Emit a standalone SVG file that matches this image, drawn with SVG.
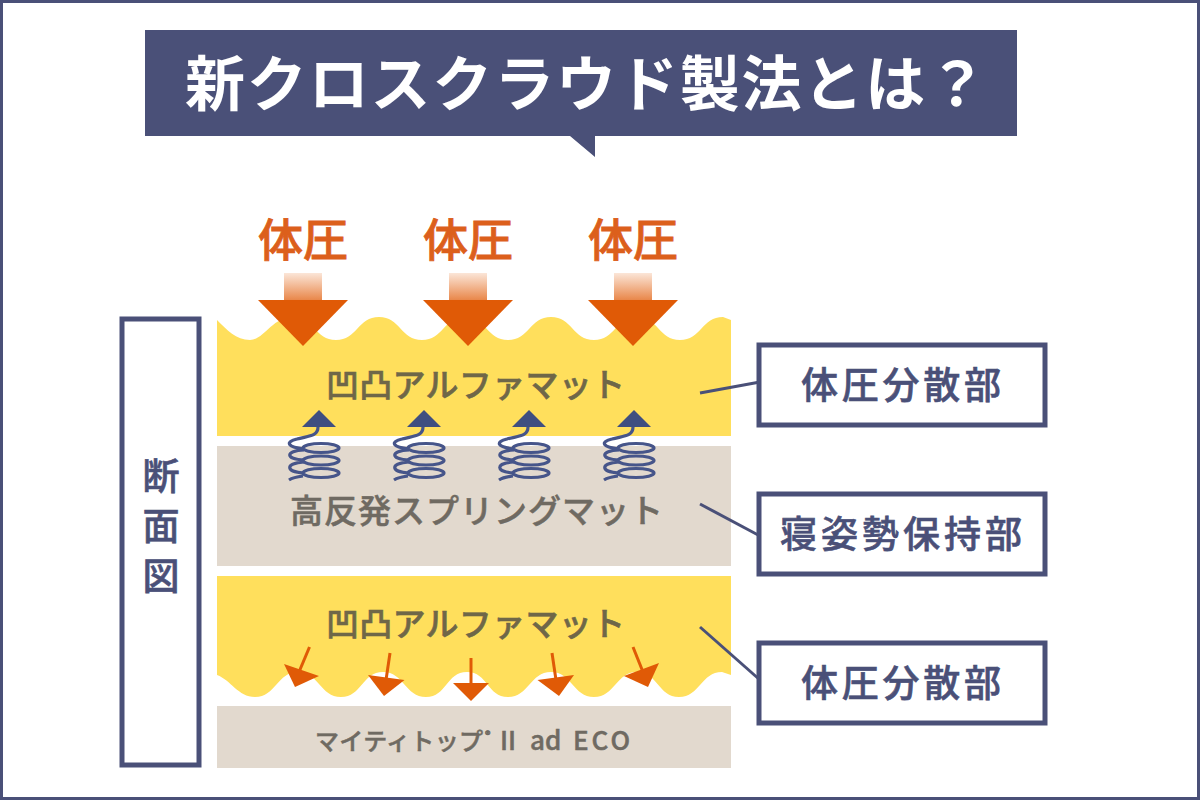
<svg xmlns="http://www.w3.org/2000/svg" xmlns:xlink="http://www.w3.org/1999/xlink" width="1200" height="800" viewBox="0 0 1200 800">
<style>
text{font-family:"Noto Sans CJK JP","Noto Sans",sans-serif;font-weight:500}
.title{font-weight:700}
.navybox{fill:#fff;stroke:#4a5078;stroke-width:5}
.navy{fill:#4a5078}
.lab{font-size:37px;fill:#4a5078;stroke:#4a5078;stroke-width:.6px;text-anchor:middle}
.pressure{font-size:45px;fill:#dc5f1c;stroke:#dc5f1c;stroke-width:.8px;text-anchor:middle}
.onyellow{font-size:33px;fill:#6f6748;stroke:#6f6748;stroke-width:.6px}
.onbeige{fill:#6f6a62;stroke:#6f6a62;stroke-width:.5px}
.yellow{fill:#ffdf5c}
.beige{fill:#e2d9ce}
.orange{fill:#e05a06}
.oline{stroke:#e05a06;stroke-width:3;fill:none}
.conn{stroke:#4a5078;stroke-width:3;fill:none}
.coil{fill:none;stroke:#46558a;stroke-width:3.200}
</style>
<defs>
<linearGradient id="fade" x1="0" y1="0" x2="0" y2="1">
<stop offset="0" stop-color="#fbe6d8"/><stop offset="1" stop-color="#e05a06"/>
</linearGradient>
<g id="press">
<rect x="-19" y="273" width="38" height="40" fill="url(#fade)"/>
<path class="orange" d="M-45 300H45L0 346Z"/>
</g>
<g id="spring">
<ellipse class="coil" cx="2" cy="448" rx="18" ry="4.500"/>
<ellipse class="coil" cx="2" cy="460.500" rx="18" ry="4.500"/>
<ellipse class="coil" cx="2" cy="473" rx="18" ry="4.500"/>
<path class="coil" d="M-1 427C-1 437-12 436-22 439C-34 442-32 447-15 449M-15 450C-34 451-34 459-15 460M-15 462C-34 463-34 472-15 473M-16 476C-24 477-27 478-30 480"/>
<path style="fill:#3f4f80" d="M0 410L17 427H-17Z"/>
</g>
</defs>
<rect x="1.500" y="1.500" width="1197" height="797" fill="#fff" stroke="#4a5078" stroke-width="3"/>
<g id="title">
<path class="navy" d="M145 30H1017V136H595V157L570 136H145Z"/>
<text class="title" x="185" y="106" font-size="60" fill="#fff" textLength="802" lengthAdjust="spacing">新クロスクラウド製法とは？</text>
</g>
<g id="layer-top">
<path class="yellow" d="M217 320C227 330 236 340 250 340S272 317 293 317S315 340 336 340S358 317 379 317S401 340 422 340S444 317 465 317S487 340 508 340S530 317 551 317S573 340 594 340S616 317 637 317S659 340 680 340S702 317 723 317L731 320V436H217Z"/>
<text class="onyellow" x="326" y="397" textLength="299" lengthAdjust="spacing">凹凸アルファマット</text>
</g>
<g id="layer-spring">
<rect class="beige" x="217" y="446" width="514" height="120"/>
<text class="onbeige" x="290" y="523" font-size="33" textLength="373" lengthAdjust="spacing">高反発スプリングマット</text>
</g>
<g id="layer-bottom">
<path class="yellow" d="M217 576H731V675L722 672C701 672 700 697 679 697S658 672 637 672S615 697 594 697S572 672 551 672S529 697 508 697S488 672 467 672S447 697 426 697S404 672 383 672S362 697 341 697S319 672 298 672S276 697 255 697C238 697 231 680 217 675Z"/>
<text class="onyellow" x="326" y="636" textLength="299" lengthAdjust="spacing">凹凸アルファマット</text>
</g>
<g id="layer-base">
<rect class="beige" x="217" y="706" width="514" height="62"/>
<text class="onbeige" x="315" y="750" font-size="24" textLength="168" lengthAdjust="spacing">マイティトップ</text>
<text class="onbeige" x="485" y="739" font-size="11">®</text>
<text class="onbeige" x="500" y="750" font-size="26">II</text>
<text class="onbeige" x="530" y="750" font-size="26">ad</text>
<text class="onbeige" x="573" y="750" font-size="26" textLength="57" lengthAdjust="spacing">ECO</text>
</g>
<g id="pressure-1"><text class="pressure" x="303" y="257">体圧</text><use xlink:href="#press" href="#press" transform="translate(303 0)"/></g>
<g id="pressure-2"><text class="pressure" x="468" y="257">体圧</text><use xlink:href="#press" href="#press" transform="translate(468 0)"/></g>
<g id="pressure-3"><text class="pressure" x="633" y="257">体圧</text><use xlink:href="#press" href="#press" transform="translate(633 0)"/></g>
<g id="springs">
<use xlink:href="#spring" href="#spring" transform="translate(319 0)"/>
<use xlink:href="#spring" href="#spring" transform="translate(424 0)"/>
<use xlink:href="#spring" href="#spring" transform="translate(529 0)"/>
<use xlink:href="#spring" href="#spring" transform="translate(634 0)"/>
</g>
<g id="small-arrows">
<path class="oline" d="M309.500 647L299 672"/><path class="orange" d="M284 664L319 676L295 687Z"/>
<path class="oline" d="M390 653L386 680"/><path class="orange" d="M368 675L404.500 680L384 696Z"/>
<path class="oline" d="M471 658V684"/><path class="orange" d="M453 683H489L471 701Z"/>
<path class="oline" d="M552 653L556 680"/><path class="orange" d="M537.500 680L574 675L559 696Z"/>
<path class="oline" d="M633 647L643 672"/><path class="orange" d="M624 676L659 663L648 687Z"/>
</g>
<g id="connectors">
<path class="conn" d="M700 393L760 382"/>
<path class="conn" d="M700 504L760 536"/>
<path class="conn" d="M700 627L760 680"/>
</g>
<g id="label-section">
<rect class="navybox" x="122" y="319" width="77" height="446"/>
<text class="lab" x="161" y="490">断</text>
<text class="lab" x="161" y="540">面</text>
<text class="lab" x="161" y="590">図</text>
</g>
<g id="label-disperse-1">
<rect class="navybox" x="759" y="345" width="286" height="80"/>
<text class="lab" x="901" y="399" textLength="200" lengthAdjust="spacing">体圧分散部</text>
</g>
<g id="label-posture">
<rect class="navybox" x="759" y="494" width="286" height="80"/>
<text class="lab" x="901" y="548" textLength="242" lengthAdjust="spacing">寝姿勢保持部</text>
</g>
<g id="label-disperse-2">
<rect class="navybox" x="759" y="643" width="286" height="80"/>
<text class="lab" x="901" y="697" textLength="200" lengthAdjust="spacing">体圧分散部</text>
</g>
</svg>
